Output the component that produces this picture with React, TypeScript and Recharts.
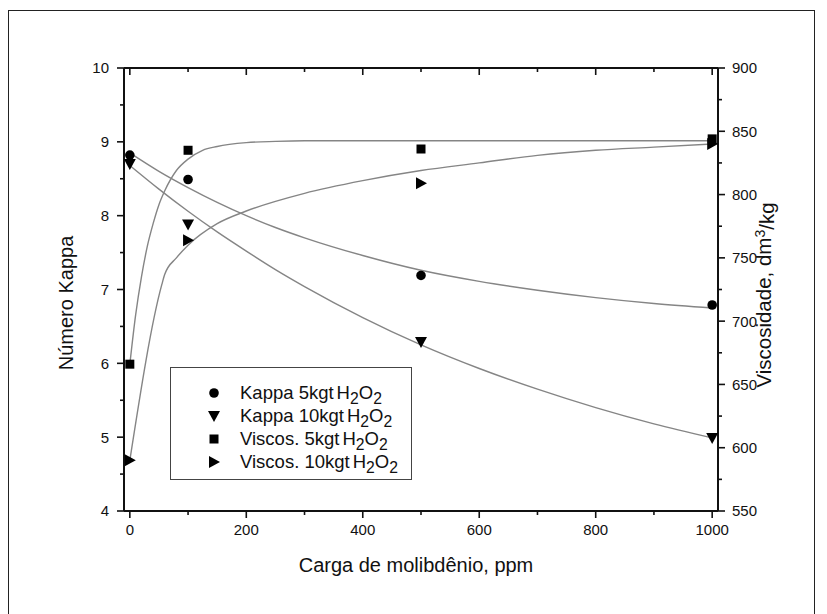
import React from 'react';
import { ComposedChart, Line, Scatter, XAxis, YAxis, Legend } from 'recharts';

// Measured samples (molybdenum load, ppm)
const loads = [0, 100, 500, 1000];
const kappa5 = [8.82, 8.49, 7.19, 6.79];
const kappa10 = [8.7, 7.88, 6.29, 4.99];
const viscos5 = [666, 835, 836, 844];
const viscos10 = [590, 764, 809, 840];

// Fitted curves
const kappaFitX = [0, 50, 100, 150, 200, 250, 300, 400, 500, 600, 700, 800, 900, 1000];
const kappa5FitY = [8.85, 8.6, 8.38, 8.18, 8.0, 7.84, 7.7, 7.46, 7.26, 7.11, 6.99, 6.89, 6.81, 6.75];
const kappa10FitY = [8.68, 8.36, 8.06, 7.78, 7.52, 7.27, 7.04, 6.62, 6.25, 5.93, 5.65, 5.4, 5.18, 4.99];
const viscos5FitX = [0, 10, 20, 30, 40, 50, 60, 80, 100, 125, 150, 200, 250, 300, 500, 1000];
const viscos5FitY = [666, 705, 735, 759, 777, 792, 803, 819, 828, 835, 838, 841, 842, 842.5, 842.5, 842.5];
const viscos10FitX = [0, 55, 60, 80, 100, 150, 200, 300, 400, 500, 600, 700, 800, 900, 1000];
const viscos10FitY = [590, 729, 737, 750, 760, 777, 787, 801, 811, 819, 825, 831, 835, 837.5, 840];

// Axis ticks
const xTicks = [0, 100, 200, 300, 400, 500, 600, 700, 800, 900, 1000];
const kappaTicks = [4, 4.5, 5, 5.5, 6, 6.5, 7, 7.5, 8, 8.5, 9, 9.5, 10];
const viscTicks = [550, 575, 600, 625, 650, 675, 700, 725, 750, 775, 800, 825, 850, 875, 900];

const toPoints = (xs: number[], ys: number[]) => xs.map((x, i) => ({ x, y: ys[i] }));

const FONT = '"Liberation Sans", Arial, sans-serif';
const INK = '#111';
const CURVE = '#858585';

type TickProps = { x: number; y: number; payload: { value: number } };

const BottomTick = ({ x, y, payload }: TickProps) => {
  const major = payload.value % 200 === 0;
  return (
    <g>
      <line x1={x} x2={x} y1={y} y2={y + (major ? 7 : 4)} stroke={INK} strokeWidth={1.6} />
      {major && (
        <text x={x} y={y + 24} textAnchor="middle" fontSize={15} fontFamily={FONT} fill={INK}>
          {payload.value}
        </text>
      )}
    </g>
  );
};

const TopTick = ({ x, y, payload }: TickProps) => {
  const major = payload.value % 200 === 0;
  return <line x1={x} x2={x} y1={y} y2={y + (major ? 7 : 4)} stroke={INK} strokeWidth={1.6} />;
};

const LeftTick = ({ x, y, payload }: TickProps) => {
  const major = payload.value % 1 === 0;
  return (
    <g>
      <line x1={x} x2={x - (major ? 7 : 4)} y1={y} y2={y} stroke={INK} strokeWidth={1.6} />
      {major && (
        <text x={x - 15} y={y} dy="0.36em" textAnchor="end" fontSize={15} fontFamily={FONT} fill={INK}>
          {payload.value}
        </text>
      )}
    </g>
  );
};

const RightTick = ({ x, y, payload }: TickProps) => {
  const major = payload.value % 50 === 0;
  return (
    <g>
      <line x1={x} x2={x + (major ? 7 : 4)} y1={y} y2={y} stroke={INK} strokeWidth={1.6} />
      {major && (
        <text x={x + 14} y={y} dy="0.36em" textAnchor="start" fontSize={15} fontFamily={FONT} fill={INK}>
          {payload.value}
        </text>
      )}
    </g>
  );
};

type ShapeProps = { cx?: number; cy?: number };

const CircleMark = ({ cx = 0, cy = 0 }: ShapeProps) => <circle cx={cx} cy={cy} r={4.8} fill="#000" />;
const TriDownMark = ({ cx = 0, cy = 0 }: ShapeProps) => (
  <polygon points={`${cx - 6},${cy - 5} ${cx + 6},${cy - 5} ${cx},${cy + 6}`} fill="#000" />
);
const SquareMark = ({ cx = 0, cy = 0 }: ShapeProps) => (
  <rect x={cx - 4.5} y={cy - 4.5} width={9} height={9} fill="#000" />
);
const TriRightMark = ({ cx = 0, cy = 0 }: ShapeProps) => (
  <polygon points={`${cx - 5},${cy - 6} ${cx - 5},${cy + 6} ${cx + 6},${cy}`} fill="#000" />
);

const subStyle = { fontSize: '0.85em', verticalAlign: '-0.3em', lineHeight: 0 };

const H2O2 = () => (
  <span style={{ marginLeft: 3 }}>
    H<sub style={subStyle}>2</sub>O<sub style={subStyle}>2</sub>
  </span>
);

const legendRows = [
  { label: 'Kappa 5kgt', icon: 'circle' },
  { label: 'Kappa 10kgt', icon: 'down' },
  { label: 'Viscos. 5kgt', icon: 'square' },
  { label: 'Viscos. 10kgt', icon: 'right' },
];

const LegendIcon = ({ icon }: { icon: string }) => (
  <svg width={16} height={16} style={{ display: 'block' }}>
    {icon === 'circle' && <CircleMark cx={8} cy={8} />}
    {icon === 'down' && <TriDownMark cx={8} cy={8} />}
    {icon === 'square' && <SquareMark cx={8} cy={8} />}
    {icon === 'right' && <TriRightMark cx={8} cy={8} />}
  </svg>
);

const LegendBox = () => (
  <div
    style={{
      boxSizing: 'border-box',
      width: 242,
      height: 113,
      border: '1.3px solid #444',
      background: '#fff',
      paddingTop: 13,
      fontFamily: FONT,
      fontSize: 18.5,
      color: INK,
    }}
  >
    {legendRows.map((r) => (
      <div key={r.label} style={{ display: 'flex', alignItems: 'center', height: 23 }}>
        <div style={{ width: 35, marginLeft: 25, display: 'flex', justifyContent: 'center' }}>
          <LegendIcon icon={r.icon} />
        </div>
        <div style={{ marginLeft: 9, whiteSpace: 'nowrap' }}>
          {r.label}
          <H2O2 />
        </div>
      </div>
    ))}
  </div>
);

export default function App() {
  return (
    <div style={{ position: 'absolute', left: 0, top: 0, width: 827, height: 614, background: '#fff' }}>
      <div
        style={{
          position: 'absolute',
          left: 8,
          top: 10,
          width: 807,
          height: 620,
          borderLeft: '1.5px solid #222',
          borderTop: '1.5px solid #222',
          borderRight: '1.5px solid #222',
          boxSizing: 'border-box',
        }}
      />
      <ComposedChart
        width={827}
        height={614}
        margin={{ top: 60, right: 0, bottom: 0, left: 0 }}
        style={{ position: 'absolute', left: 0, top: 0 }}
      >
        <XAxis
          xAxisId="bottom"
          dataKey="x"
          type="number"
          domain={[-10, 1010]}
          allowDataOverflow
          ticks={xTicks}
          interval={0}
          height={103}
          tickSize={0}
          tickMargin={0}
          tickLine={false}
          axisLine={{ stroke: INK, strokeWidth: 2 }}
          tick={BottomTick as any}
          label={{
            content: () => (
              <text x={416} y={572} textAnchor="middle" fontSize={20} fontFamily={FONT} fill={INK}>
                Carga de molibdênio, ppm
              </text>
            ),
          }}
        />
        <XAxis
          xAxisId="top"
          orientation="top"
          dataKey="x"
          type="number"
          domain={[-10, 1010]}
          allowDataOverflow
          ticks={xTicks}
          interval={0}
          height={8}
          tickSize={0}
          tickMargin={0}
          tickLine={false}
          axisLine={{ stroke: INK, strokeWidth: 2 }}
          tick={TopTick as any}
        />
        <YAxis
          yAxisId="kappa"
          dataKey="y"
          type="number"
          domain={[4, 10]}
          allowDataOverflow
          ticks={kappaTicks}
          interval={0}
          width={124}
          tickSize={0}
          tickMargin={0}
          tickLine={false}
          axisLine={{ stroke: INK, strokeWidth: 2 }}
          tick={LeftTick as any}
          label={{
            content: () => (
              <text
                x={66}
                y={303}
                transform="rotate(-90, 66, 303)"
                textAnchor="middle"
                dy="0.36em"
                fontSize={20}
                fontFamily={FONT}
                fill={INK}
              >
                Número Kappa
              </text>
            ),
          }}
        />
        <YAxis
          yAxisId="visc"
          orientation="right"
          dataKey="y"
          type="number"
          domain={[550, 900]}
          allowDataOverflow
          ticks={viscTicks}
          interval={0}
          width={109}
          tickSize={0}
          tickMargin={0}
          tickLine={false}
          axisLine={{ stroke: INK, strokeWidth: 2 }}
          tick={RightTick as any}
          label={{
            content: () => (
              <text
                x={764}
                y={295}
                transform="rotate(-90, 764, 295)"
                textAnchor="middle"
                dy="0.36em"
                fontSize={20.5}
                fontFamily={FONT}
                fill={INK}
              >
                Viscosidade, dm
                <tspan dy="-0.45em" fontSize={14}>3</tspan>
                <tspan dy="0.45em">/kg</tspan>
              </text>
            ),
          }}
        />

        <Line
          xAxisId="bottom"
          yAxisId="kappa"
          data={toPoints(kappaFitX, kappa5FitY)}
          dataKey="y"
          type="monotone"
          stroke={CURVE}
          strokeWidth={1.4}
          dot={false}
          activeDot={false}
          isAnimationActive={false}
          legendType="none"
        />
        <Line
          xAxisId="bottom"
          yAxisId="kappa"
          data={toPoints(kappaFitX, kappa10FitY)}
          dataKey="y"
          type="monotone"
          stroke={CURVE}
          strokeWidth={1.4}
          dot={false}
          activeDot={false}
          isAnimationActive={false}
          legendType="none"
        />
        <Line
          xAxisId="bottom"
          yAxisId="visc"
          data={toPoints(viscos5FitX, viscos5FitY)}
          dataKey="y"
          type="monotone"
          stroke={CURVE}
          strokeWidth={1.4}
          dot={false}
          activeDot={false}
          isAnimationActive={false}
          legendType="none"
        />
        <Line
          xAxisId="bottom"
          yAxisId="visc"
          data={toPoints(viscos10FitX, viscos10FitY)}
          dataKey="y"
          type="monotone"
          stroke={CURVE}
          strokeWidth={1.4}
          dot={false}
          activeDot={false}
          isAnimationActive={false}
          legendType="none"
        />

        <Scatter
          xAxisId="bottom"
          yAxisId="kappa"
          data={toPoints(loads, kappa5)}
          dataKey="y"
          shape={CircleMark as any}
          isAnimationActive={false}
        />
        <Scatter
          xAxisId="bottom"
          yAxisId="kappa"
          data={toPoints(loads, kappa10)}
          dataKey="y"
          shape={TriDownMark as any}
          isAnimationActive={false}
        />
        <Scatter
          xAxisId="bottom"
          yAxisId="visc"
          data={toPoints(loads, viscos5)}
          dataKey="y"
          shape={SquareMark as any}
          isAnimationActive={false}
        />
        <Scatter
          xAxisId="bottom"
          yAxisId="visc"
          data={toPoints(loads, viscos10)}
          dataKey="y"
          shape={TriRightMark as any}
          isAnimationActive={false}
        />

        <Legend
          layout="vertical"
          align="center"
          verticalAlign="middle"
          content={() => <LegendBox />}
          wrapperStyle={{ left: 170, top: 367, width: 242, height: 113 }}
        />
      </ComposedChart>
    </div>
  );
}
